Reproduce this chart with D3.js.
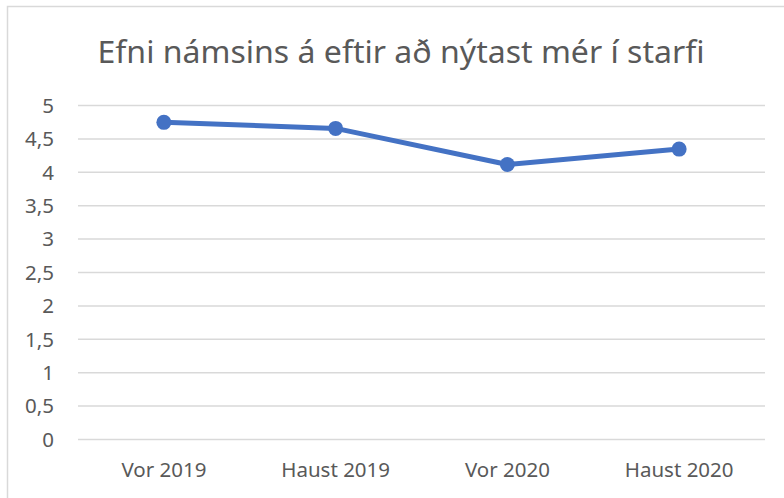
<!DOCTYPE html>
<html>
<head>
<meta charset="utf-8">
<script src="https://cdn.jsdelivr.net/npm/d3@7/dist/d3.min.js"></script>
<style>
  body { margin: 0; background: #fff; }
  text { font-family: "Noto Sans", sans-serif; fill: #595959; }
</style>
</head>
<body>
<div id="chart"></div>
<script>
// data
var categories = ["Vor 2019", "Haust 2019", "Vor 2020", "Haust 2020"];
var values = [4.74, 4.65, 4.11, 4.34];
var yTicks = [0, 0.5, 1, 1.5, 2, 2.5, 3, 3.5, 4, 4.5, 5];
var title = "Efni námsins á eftir að nýtast mér í starfi";

var width = 784, height = 498;
var plot = { left: 78, right: 765, top: 105, bottom: 439 };

var svg = d3.select("#chart").append("svg")
  .attr("width", width)
  .attr("height", height);

// chart area border
svg.append("rect")
  .attr("x", 7.5).attr("y", 6.5)
  .attr("width", 800).attr("height", 520)
  .attr("fill", "#fff")
  .attr("stroke", "#d9d9d9")
  .attr("stroke-width", 1.5);

var x = d3.scaleBand()
  .domain(categories)
  .range([plot.left, plot.right]);

var y = d3.scaleLinear()
  .domain([0, 5])
  .range([plot.bottom, plot.top]);

var fmt = function (d) { return d3.format("~g")(d).replace(".", ","); };

// gridlines + y labels
var yAxis = d3.axisLeft(y)
  .tickValues(yTicks)
  .tickSize(-(plot.right - plot.left))
  .tickPadding(24)
  .tickFormat(fmt);

var gy = svg.append("g")
  .attr("transform", "translate(" + plot.left + ",0)")
  .call(yAxis);
gy.select(".domain").remove();
gy.selectAll("line").attr("stroke", "#d9d9d9").attr("stroke-width", 1.5);
gy.selectAll("text")
  .attr("font-size", 20.5)
  .attr("dy", "0.36em")
  .style("fill", "#595959");

// x labels
var xAxis = d3.axisBottom(x).tickSize(0).tickPadding(0);
var gx = svg.append("g")
  .attr("transform", "translate(0," + plot.bottom + ")")
  .call(xAxis);
gx.select(".domain").remove();
gx.selectAll("text")
  .attr("font-size", 20.5)
  .attr("dy", null)
  .attr("y", 37.5)
  .style("fill", "#595959");

// line
var line = d3.line()
  .x(function (d, i) { return x(categories[i]) + x.bandwidth() / 2; })
  .y(function (d) { return y(d); });

svg.append("path")
  .datum(values)
  .attr("d", line)
  .attr("fill", "none")
  .attr("stroke", "#4472c4")
  .attr("stroke-width", 5)
  .attr("stroke-linejoin", "round");

svg.selectAll(".dot")
  .data(values)
  .enter().append("circle")
  .attr("class", "dot")
  .attr("cx", function (d, i) { return x(categories[i]) + x.bandwidth() / 2; })
  .attr("cy", function (d) { return y(d); })
  .attr("r", 7.5)
  .attr("fill", "#4472c4");

// title
svg.append("text")
  .attr("x", 401)
  .attr("y", 63)
  .attr("text-anchor", "middle")
  .attr("font-size", 31)
  .attr("textLength", 607)
  .attr("lengthAdjust", "spacingAndGlyphs")
  .text(title);
</script>
</body>
</html>
